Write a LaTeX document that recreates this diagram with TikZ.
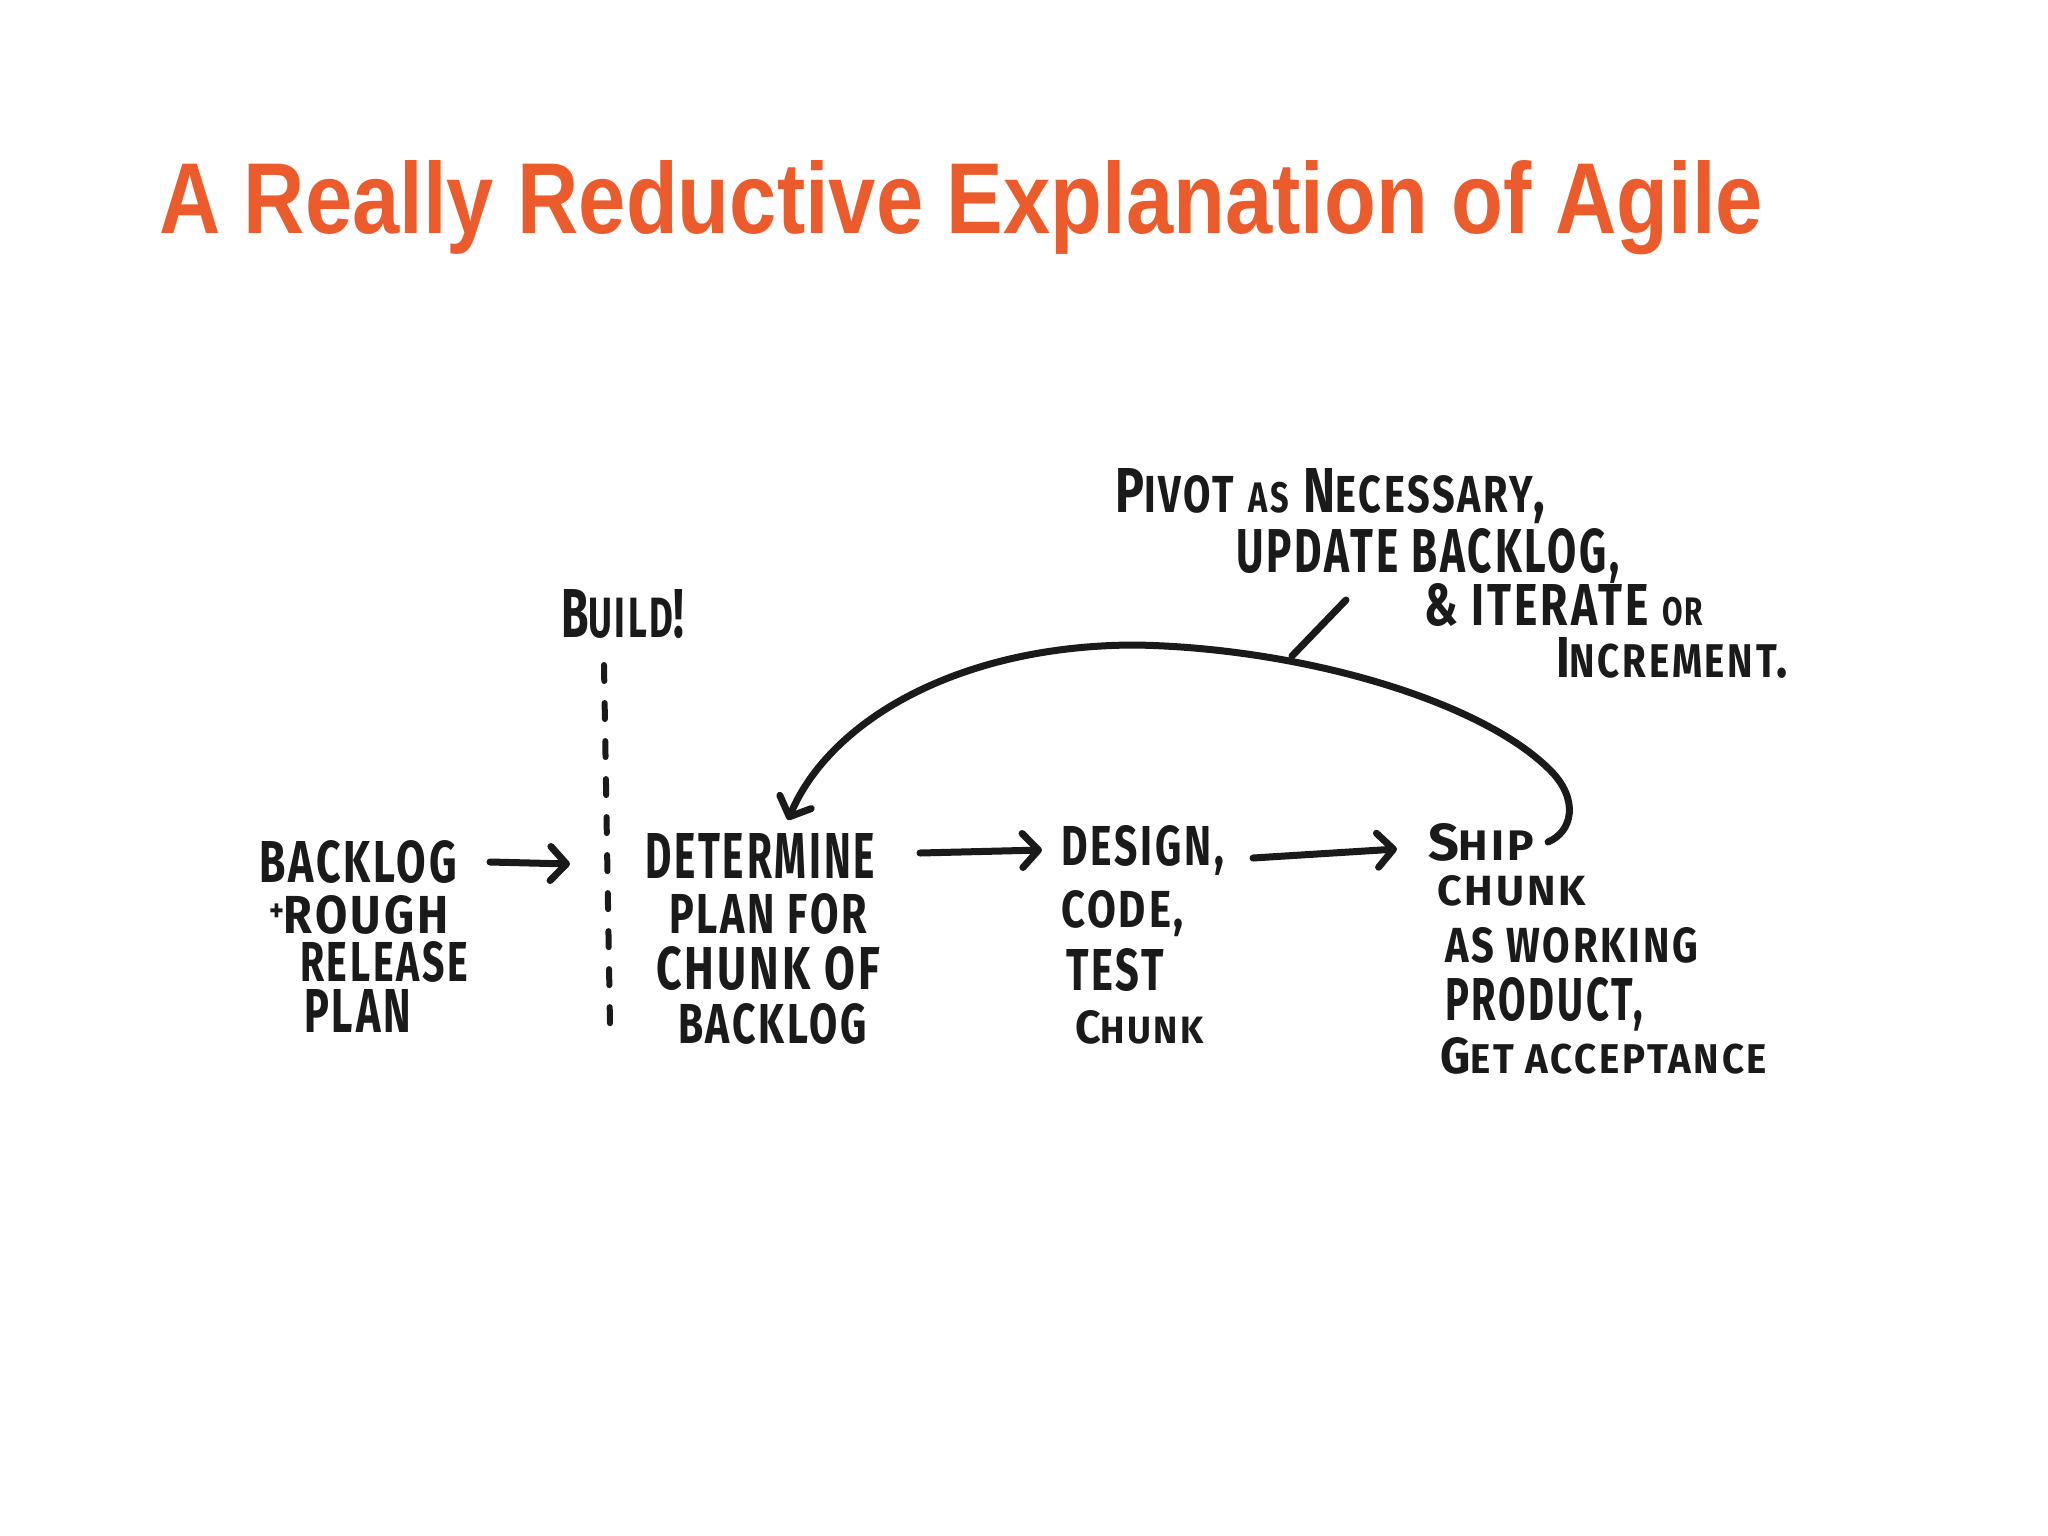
\documentclass[tikz,border=0pt]{standalone}
\usepackage{fontspec}
\usepackage{graphicx}
\setmainfont{Liberation Sans}
\newfontfamily\hand{Fira Sans}[LetterSpace=7]
\usetikzlibrary{arrows.meta}
\definecolor{titleorange}{RGB}{236,91,43}
\definecolor{ink}{RGB}{26,26,26}
\newlength\pxu
\setlength\pxu{0.01cm}
\newcommand\hwl[3]{\resizebox{#1\pxu}{#2\pxu}{\hand\bfseries #3}}
\newcommand\lo[1]{\scalebox{0.82}{#1}}
\newcommand\plusmark{\raisebox{0.22em}{\scalebox{0.6}{+}}}
\begin{document}
\begin{tikzpicture}[x=0.01cm,y=-0.01cm,
  hw/.style={anchor=base west, inner sep=0pt, outer sep=0pt, text=ink},
  conn/.style={draw=ink, line width=0.07cm, line cap=round, line join=round},
  tip/.style={-{Straight Barb[length=1.6mm,width=3.4mm,round]}},
  dashsep/.style={draw=ink, line width=0.06cm, line cap=round, dash pattern=on 0.16cm off 0.22cm}]
\path[use as bounding box, fill=white] (0,0) rectangle (2048,1536);

% title
\node[anchor=base west, inner sep=0pt, outer sep=0pt, text=titleorange] (title) at (159,233)
  {\resizebox{1604\pxu}{73\pxu}{\bfseries A Really Reductive Explanation of Agile}};

% left block
\node[hw] (bl1) at (259,882) {\hwl{198}{42}{BACKLOG}};
\node[hw] (bl2) at (269,933) {\hwl{180}{38}{\plusmark ROUGH}};
\node[hw] (bl3) at (300,981) {\hwl{168}{40}{RELEASE}};
\node[hw] (bl4) at (304,1032) {\hwl{107}{43}{PLAN}};

% build marker
\node[hw] (build) at (561,637) {\hwl{123}{48}{B\lo{UILD}!}};
\coordinate (buildtop) at (604,665);
\coordinate (buildbot) at (610,1025);
\draw[dashsep] (buildtop) -- (buildbot);

% determine block
\node[hw] (d1) at (645,878) {\hwl{230}{45}{DETERMINE}};
\node[hw] (d2) at (669,933) {\hwl{198}{40}{PLAN FOR}};
\node[hw] (d3) at (656,989) {\hwl{224}{43}{CHUNK OF}};
\node[hw] (d4) at (678,1043) {\hwl{189}{40}{BACKLOG}};

% design block
\node[hw] (ds1) at (1061,865) {\hwl{163}{40}{DESIGN,}};
\node[hw] (ds2) at (1061,927) {\hwl{123}{37}{CODE,}};
\node[hw] (ds3) at (1066,990) {\hwl{98}{42}{TEST}};
\node[hw] (ds4) at (1075,1043) {\hwl{129}{33}{C\lo{HUNK}}};

% ship block
\node[hw] (sh1) at (1428,860) {\hwl{106}{37}{S\lo{HIP}}};
\node[hw] (sh2) at (1437,905) {\hwl{149}{30}{CHUNK}};
\node[hw] (sh3) at (1445,962) {\hwl{253}{35}{AS WORKING}};
\node[hw] (sh4) at (1445,1020) {\hwl{198}{43}{PRODUCT,}};
\node[hw] (sh5) at (1440,1073) {\hwl{327}{36}{G\lo{ET ACCEPTANCE}}};

% pivot note
\node[hw] (p1) at (1115,512) {\hwl{430}{44}{P\lo{IVOT} \lo{\lo{AS}} N\lo{ECESSARY},}};
\node[hw] (p2) at (1236,572) {\hwl{384}{44}{UPDATE BACKLOG,}};
\node[hw] (p3) at (1424,625) {\hwl{279}{42}{\& ITERATE \lo{\lo{OR}}}};
\node[hw] (p4) at (1556,677) {\hwl{232}{40}{I\lo{NCREMENT}.}};

% arrows
\coordinate (a1s) at (490,862);
\coordinate (a1e) at (570,864);
\draw[conn,tip] (a1s) -- (a1e);
\coordinate (a2s) at (920,853);
\coordinate (a2e) at (1042,850);
\draw[conn,tip] (a2s) -- (a2e);
\coordinate (a3s) at (1253,858);
\coordinate (a3e) at (1397,849);
\draw[conn,tip] (a3s) -- (a3e);

% feedback loop
\coordinate (loopstart) at (1548,842);
\coordinate (looptip) at (788,820);
\draw[conn,tip] (loopstart) .. controls (1572,832) and (1580,800) .. (1550,770)
  .. controls (1480,700) and (1300,648) .. (1136,645)
  .. controls (960,645) and (830,720) .. (looptip);

% leader from note to loop
\coordinate (lead1) at (1346,600);
\coordinate (lead2) at (1292,656);
\draw[conn] (lead1) -- (lead2);
\end{tikzpicture}
\end{document}
